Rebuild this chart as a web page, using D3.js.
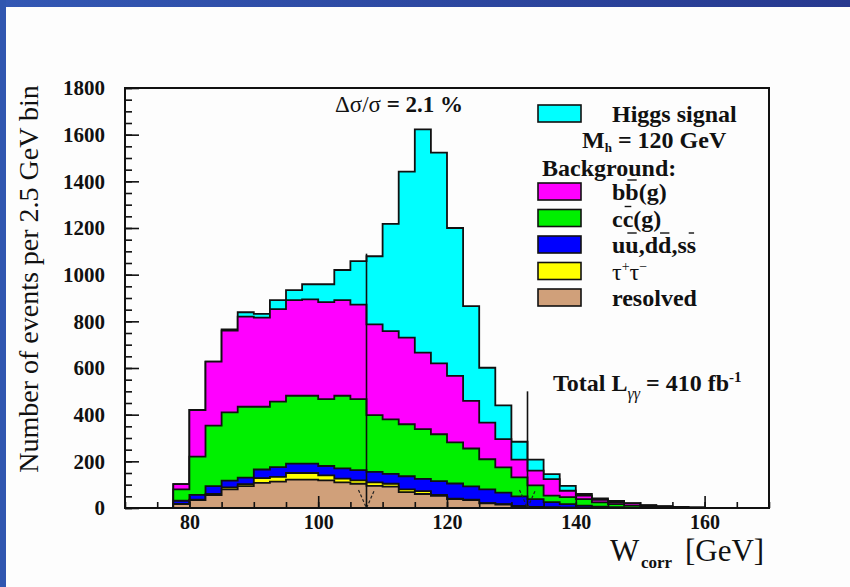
<!DOCTYPE html>
<html>
<head>
<meta charset="utf-8">
<script src="https://cdn.jsdelivr.net/npm/d3@7"></script>
<style>
  html, body { margin: 0; padding: 0; background: #fdfdfd; }
  svg { display: block; }
  text { font-family: "Liberation Serif", "Times New Roman", serif; fill: #111; }
</style>
</head>
<body>
<div id="chart"></div>
<script>

// bin low edges in GeV (bins are 2.5 GeV wide)
var binLow = [77.5, 80, 82.5, 85, 87.5, 90, 92.5, 95, 97.5, 100, 102.5, 105, 107.5, 110, 112.5,
	115, 117.5, 120, 122.5, 125, 127.5, 130, 132.5, 135, 137.5, 140, 142.5, 145, 147.5, 150,
	152.5, 155, 157.5];

// events per bin, per process (stacked bottom -> top)
var resolved = [17, 34, 55, 80, 94, 108, 113, 122, 122, 118, 110, 104, 95, 92, 68, 60, 52, 38, 34, 20, 15, 8, 5, 3, 2, 1, 0, 0, 0, 0, 0, 0, 0];
var tautau   = [1, 2, 5, 8, 8, 20, 20, 28, 28, 22, 16, 14, 15, 12, 12, 12, 4, 2, 2, 1, 1, 0, 0, 0, 0, 0, 0, 0, 0, 0, 0, 0, 0];
var udsBg    = [13, 20, 34, 29, 28, 37, 42, 40, 40, 40, 44, 44, 45, 42, 56, 53, 59, 65, 57, 59, 50, 42, 33, 22, 15, 9, 6, 4, 2, 1, 1, 0, 0];
var ccBg     = [49, 164, 259, 293, 304, 269, 281, 291, 291, 287, 311, 305, 243, 234, 223, 213, 201, 176, 162, 129, 108, 81, 59, 28, 30, 28, 18, 13, 8, 5, 3, 2, 1];
var bbBg     = [22, 200, 274, 350, 386, 382, 396, 410, 413, 415, 410, 405, 389, 378, 371, 328, 304, 285, 204, 157, 121, 76, 63, 71, 27, 15, 11, 7, 10, 5, 3, 2, 1];
var higgs    = [0, 0, 0, 5, 19, 16, 39, 43, 65, 77, 129, 186, 292, 460, 712, 957, 903, 634, 406, 235, 145, 77, 47, 21, 21, 7, 6, 6, 1, 1, 1, 1, 1];

var binWidth = 2.5;

// mass window cut (GeV) and height of the marker lines
var cutEdges = [107.5, 132.5];
var cutTops = [1090, 500];

var xTicks = [80, 100, 120, 140, 160];
var yTicks = [0, 200, 400, 600, 800, 1000, 1200, 1400, 1600, 1800];

var keys = ['resolved', 'tautau', 'udsBg', 'ccBg', 'bbBg', 'higgs'];
var colors = {
	resolved: '#d0a07a',
	tautau: '#ffff00',
	udsBg: '#0000ff',
	ccBg: '#00f000',
	bbBg: '#ff00ff',
	higgs: '#00ffff'
};

var W = 850, H = 587;

var svg = d3.select('#chart').append('svg')
	.attr('width', W)
	.attr('height', H);

// slide background with blue border
var grad = svg.append('defs').append('linearGradient').attr('id', 'band');
grad.append('stop').attr('offset', '0%').attr('stop-color', '#3358b4');
grad.append('stop').attr('offset', '100%').attr('stop-color', '#27398f');
svg.append('rect').attr('width', W).attr('height', H).attr('fill', '#fdfdfd');
svg.append('rect').attr('width', W).attr('height', 7).attr('fill', 'url(#band)');
svg.append('rect').attr('width', 6).attr('height', H).attr('fill', '#3056b0');

var x = d3.scaleLinear().domain([70, 170]).range([125, 769]);
var y = d3.scaleLinear().domain([0, 1800]).range([508, 88]);

// table for the stack
var rows = binLow.map(function (lo, i) {
	return {
		lo: lo,
		resolved: resolved[i],
		tautau: tautau[i],
		udsBg: udsBg[i],
		ccBg: ccBg[i],
		bbBg: bbBg[i],
		higgs: higgs[i]
	};
});

var stack = d3.stack().keys(keys)(rows);

var area = d3.area()
	.curve(d3.curveStepAfter)
	.x(function (d) { return x(d.lo); })
	.y0(y(0))
	.y1(function (d) { return y(d.top); });

// draw cumulative histograms, largest first (like ROOT THStack)
stack.slice().reverse().forEach(function (layer) {
	var pts = layer.map(function (d, i) {
		return { lo: rows[i].lo, top: d[1] };
	});
	var last = pts[pts.length - 1];
	pts.push({ lo: last.lo + binWidth, top: last.top });

	svg.append('path')
		.datum(pts)
		.attr('d', area)
		.attr('fill', colors[layer.key])
		.attr('stroke', '#111')
		.attr('stroke-width', 1.8)
		.attr('stroke-linejoin', 'miter');
});

// cut lines with dashed arrows
cutEdges.forEach(function (c, i) {
	var cx = x(c);
	svg.append('line')
		.attr('x1', cx).attr('x2', cx)
		.attr('y1', y(0)).attr('y2', y(cutTops[i]))
		.attr('stroke', '#111')
		.attr('stroke-width', 1.6);
	svg.append('path')
		.attr('d', 'M' + (cx - 8) + ',' + (y(0) - 18) + 'L' + cx + ',' + y(0) + 'L' + (cx + 8) + ',' + (y(0) - 18))
		.attr('fill', 'none')
		.attr('stroke', '#222')
		.attr('stroke-width', 1.2)
		.attr('stroke-dasharray', '3,2');
});

// axes
var fmt = d3.format('d');
var yAxis = svg.append('g')
	.attr('transform', 'translate(' + x(70) + ',0)')
	.call(d3.axisLeft(y).tickValues(yTicks).tickFormat(fmt).tickSize(-14).tickPadding(20));
svg.append('g')
	.attr('transform', 'translate(' + x(70) + ',0)')
	.call(d3.axisLeft(y).tickValues(d3.range(0, 1801, 50)).tickSize(-7).tickFormat(''));

var xAxis = svg.append('g')
	.attr('transform', 'translate(0,' + y(0) + ')')
	.call(d3.axisBottom(x).tickValues(xTicks).tickFormat(fmt).tickSize(-12).tickPadding(7));
svg.append('g')
	.attr('transform', 'translate(0,' + y(0) + ')')
	.call(d3.axisBottom(x).tickValues(d3.range(70, 171, 5)).tickSize(-6).tickFormat(''));

svg.selectAll('.domain').remove();
svg.selectAll('.tick line').attr('stroke', '#111').attr('stroke-width', 1.6);
yAxis.selectAll('text').style('font-size', '21px').style('font-weight', 'bold')
	.style('font-family', '"Liberation Serif", serif').attr('fill', '#111');
xAxis.selectAll('text').style('font-size', '20px').style('font-weight', 'bold')
	.style('font-family', '"Liberation Serif", serif').attr('fill', '#111');

// frame
svg.append('rect')
	.attr('x', x(70)).attr('y', y(1800))
	.attr('width', x(170) - x(70)).attr('height', y(0) - y(1800))
	.attr('fill', 'none')
	.attr('stroke', '#111')
	.attr('stroke-width', 2);

// axis titles
svg.append('text')
	.attr('transform', 'translate(38,279) rotate(-90)')
	.attr('text-anchor', 'middle')
	.style('font-size', '28px')
	.text('Number of events per 2.5 GeV bin');

var xt = svg.append('text').attr('y', 561).style('font-size', '31px');
xt.append('tspan').attr('x', 610).text('W');
xt.append('tspan').attr('x', 641).attr('dy', 7).style('font-size', '17px').style('font-weight', 'bold').text('corr');
xt.append('tspan').attr('x', 685).attr('dy', -7).text('[GeV]');

// annotation
var ds = svg.append('text').attr('x', 335).attr('y', 112).style('font-size', '23px');
ds.append('tspan').text('\u0394\u03c3/\u03c3');
ds.append('tspan').style('font-weight', 'bold').text(' = 2.1 %');

var lum = svg.append('text').attr('x', 553).attr('y', 391)
	.style('font-size', '24px').style('font-weight', 'bold');
lum.append('tspan').text('Total L');
lum.append('tspan').attr('dy', 8).style('font-size', '16px').style('font-style', 'italic').style('font-weight', 'normal').text('\u03b3\u03b3');
lum.append('tspan').attr('dy', -8).text(' = 410 fb');
lum.append('tspan').attr('dy', -9).style('font-size', '15px').text('-1');

// legend
var leg = svg.append('g').style('font-size', '24px').style('font-weight', 'bold');

function legBox(key, top) {
	leg.append('rect')
		.attr('x', 538).attr('y', top)
		.attr('width', 43).attr('height', 17)
		.attr('fill', colors[key])
		.attr('stroke', '#111')
		.attr('stroke-width', 1.6);
}

function legText(xp, yb, str, bars) {
	var t = leg.append('text').attr('x', xp).attr('y', yb).text(str);
	(bars || []).forEach(function (i) {
		var b = t.node().getExtentOfChar(i);
		leg.append('line')
			.attr('x1', b.x + 2).attr('x2', b.x + b.width - 2)
			.attr('y1', yb - 20).attr('y2', yb - 20)
			.attr('stroke', '#111').attr('stroke-width', 1.4);
	});
	return t;
}

legBox('higgs', 105);
legText(612, 122, 'Higgs signal');

var mh = leg.append('text').attr('x', 582).attr('y', 148);
mh.append('tspan').text('M');
mh.append('tspan').attr('dy', 4).style('font-size', '13px').text('h');
mh.append('tspan').attr('dy', -4).text(' = 120 GeV');

legText(542, 176, 'Background:');

var bgRows = [
	{ key: 'bbBg', label: 'bb(g)', bars: [1] },
	{ key: 'ccBg', label: 'cc(g)', bars: [1] },
	{ key: 'udsBg', label: 'uu,dd,ss', bars: [1, 4, 7] },
	{ key: 'tautau', label: null },
	{ key: 'resolved', label: 'resolved' }
];

bgRows.forEach(function (r, i) {
	var top = 183 + i * 26.5;
	legBox(r.key, top);
	if (r.label) {
		legText(612, top + 17, r.label, r.bars);
	} else {
		var tt = leg.append('text').attr('x', 612).attr('y', top + 17).style('font-weight', 'normal');
		tt.append('tspan').text('\u03c4');
		tt.append('tspan').attr('dy', -9).style('font-size', '14px').text('+');
		tt.append('tspan').attr('dy', 9).text('\u03c4');
		tt.append('tspan').attr('dy', -9).style('font-size', '14px').text('\u2212');
	}
});

</script>
</body>
</html>
